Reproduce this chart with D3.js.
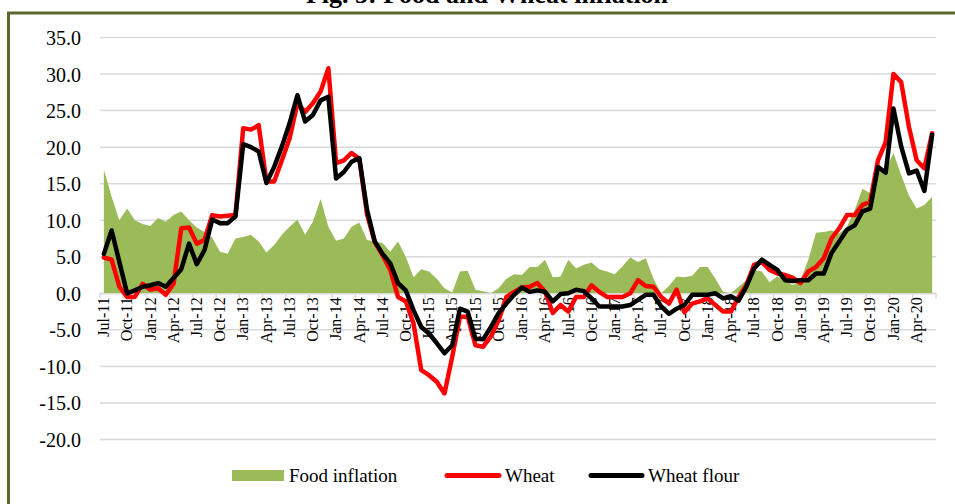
<!DOCTYPE html>
<html lang="en">
<head>
    <meta charset="UTF-8">
    <script src="https://d3js.org/d3.v7.min.js"></script>
    <style>
        body { margin: 0; background: #fff; font-family: "Liberation Serif", "Times New Roman", serif; }
        svg { display: block; }
        .grid line { stroke: #d9d9d9; stroke-width: 1.5; }
        .ytick text { font-size: 20px; fill: #000; }
        .xtick text { font-size: 16px; fill: #000; }
        .legend text { font-size: 19px; fill: #000; }
    </style>
</head>
<body>
    <svg id="chart"></svg>
    <script>
        // monthly, Jul-11 .. Jun-20
        const months = d3.timeMonth.range(new Date(2011, 6, 1), new Date(2020, 6, 1));
        const monthFmt = d3.timeFormat("%b-%y");

        const foodInflation = [
            16.9, 13.2, 10.0, 11.6, 10.0, 9.5, 9.2, 10.3, 9.8, 10.7, 11.2, 10.0,
            9.0, 8.4, 7.6, 5.7, 5.4, 7.5, 7.7, 8.0, 7.1, 5.6, 6.6, 8.0,
            9.1, 10.1, 8.0, 9.8, 12.9, 9.1, 7.2, 7.5, 9.1, 9.7, 7.3, 7.1,
            6.9, 5.7, 7.1, 5.0, 2.2, 3.3, 3.0, 2.0, 0.7, 0.1, 3.0, 3.1,
            0.5, 0.3, 0.0, 0.7, 2.0, 2.6, 2.5, 3.6, 3.6, 4.6, 2.2, 2.3,
            4.6, 3.4, 3.9, 4.2, 3.3, 3.0, 2.6, 3.7, 4.9, 4.3, 4.8, 2.0,
            0.0, 1.0, 2.3, 2.2, 2.4, 3.6, 3.6, 2.0, 0.2, 0.0, 0.9, 1.8,
            3.2, 3.0, 1.5, 2.3, 1.8, 1.1, 1.8, 4.6, 8.3, 8.4, 8.6, 8.2,
            9.1, 11.4, 14.3, 13.7, 16.6, 16.9, 19.2, 16.2, 13.4, 11.6, 12.1, 13.2
        ];

        const wheat = [
            4.9, 4.6, 0.9, -0.5, -0.5, 1.3, 0.5, 0.7, -0.2, 1.3, 8.9, 9.0,
            6.8, 7.3, 10.7, 10.5, 10.6, 10.7, 22.6, 22.4, 23.0, 15.3, 15.3, 18.2,
            21.2, 26.0, 24.8, 26.0, 27.6, 30.8, 17.8, 18.2, 19.2, 18.4, 10.8, 7.0,
            5.2, 3.2, -0.5, -1.1, -4.1, -10.5, -11.2, -12.1, -13.7, -8.7, -3.2, -3.2,
            -7.1, -7.3, -5.9, -3.7, -0.5, 0.2, 0.8, 0.9, 1.4, 0.2, -2.7, -1.6,
            -2.5, -0.5, -0.5, 1.1, 0.2, -0.5, -0.5, -0.5, 0.0, 1.8, 1.0, 0.9,
            -0.5, -1.4, 0.5, -2.6, -1.4, -1.1, -0.7, -1.6, -2.5, -2.5, -0.5, 1.1,
            3.9, 4.3, 3.2, 2.7, 2.5, 2.1, 1.4, 3.0, 3.6, 4.8, 7.5, 8.9,
            10.7, 10.7, 12.1, 12.5, 18.2, 20.7, 30.0, 28.9, 22.8, 18.2, 17.1, 21.9
        ];

        const wheatFlour = [
            5.4, 8.6, 4.3, 0.0, 0.4, 0.9, 1.1, 1.4, 0.9, 2.1, 3.3, 6.8,
            4.0, 5.9, 10.1, 9.6, 9.6, 10.5, 20.4, 20.0, 19.4, 15.1, 17.3, 20.1,
            23.3, 27.1, 23.5, 24.4, 26.4, 26.9, 15.7, 16.6, 18.0, 18.5, 11.4, 7.1,
            5.4, 4.1, 1.4, 0.4, -2.3, -4.6, -5.5, -6.8, -8.2, -7.1, -2.1, -2.5,
            -6.2, -6.3, -4.6, -2.7, -1.4, -0.2, 0.8, 0.2, 0.4, 0.2, -1.1, -0.1,
            0.0, 0.5, 0.3, -0.7, -1.8, -1.8, -1.8, -1.8, -1.6, -0.9, -0.2, -0.2,
            -1.8, -2.8, -2.1, -1.6, -0.2, -0.2, -0.2, 0.0, -0.7, -0.4, -1.0, 0.9,
            3.4, 4.6, 3.9, 3.2, 1.8, 1.7, 1.8, 1.8, 2.7, 2.7, 5.5, 7.1,
            8.7, 9.3, 11.2, 11.6, 17.3, 16.5, 25.3, 20.1, 16.4, 16.8, 14.0, 21.7
        ];

        const yTicks = [-20, -15, -10, -5, 0, 5, 10, 15, 20, 25, 30, 35];

        const W = 955, H = 504;
        const svg = d3.select("#chart").attr("width", W).attr("height", H);

        // title (cut at the top edge like the original)
        svg.append("text")
            .attr("x", 487).attr("y", 3)
            .attr("text-anchor", "middle")
            .style("font-size", "26px").style("font-weight", "bold")
            .text("Fig. 5: Food and Wheat inflation");

        // frame
        svg.append("rect")
            .attr("x", 8.5).attr("y", 13)
            .attr("width", 970).attr("height", 520)
            .attr("fill", "none")
            .attr("stroke", "#5b6a2c").attr("stroke-width", 3);

        const x = d3.scaleBand()
            .domain(months.map(monthFmt))
            .range([100, 936])
            .padding(0);
        const cx = i => x(monthFmt(months[i])) + x.bandwidth() / 2;

        const y = d3.scaleLinear()
            .domain([-20, 35])
            .range([439.5, 37.5]);

        // gridlines
        svg.append("g").attr("class", "grid")
            .selectAll("line").data(yTicks).join("line")
            .attr("x1", 100).attr("x2", 936)
            .attr("y1", d => y(d)).attr("y2", d => y(d));

        // y axis labels
        const yAxis = svg.append("g").attr("class", "ytick")
            .attr("transform", "translate(84,0)")
            .call(d3.axisLeft(y).tickValues(yTicks).tickSize(0).tickFormat(d => d.toFixed(1)));
        yAxis.select(".domain").remove();
        yAxis.selectAll("text")
            .attr("x", -3)
            .attr("dy", "0.35em")
            .style("font-family", "'Liberation Serif', serif")
            .style("font-size", "20px");

        // food inflation area
        const area = d3.area()
            .x((d, i) => cx(i))
            .y0(y(0))
            .y1(d => y(d));
        svg.append("path")
            .datum(foodInflation)
            .attr("fill", "#9bbb59")
            .attr("d", area);

        // x axis: category boundary ticks every 3 months + rotated labels
        const labelMonths = months.filter((d, i) => i % 3 === 0).map(monthFmt);
        const xAxis = svg.append("g").attr("class", "xtick")
            .attr("transform", `translate(0,${y(0)})`)
            .call(d3.axisBottom(x).tickValues(labelMonths).tickSize(0));
        xAxis.select(".domain").attr("stroke", "#d9d9d9").attr("stroke-width", 1.5);
        xAxis.selectAll("text")
            .attr("transform", "rotate(-90)")
            .attr("x", -4)
            .attr("y", 0)
            .attr("dy", "0.33em")
            .attr("text-anchor", "end")
            .style("font-family", "'Liberation Serif', serif")
            .style("font-size", "16px");
        svg.append("g")
            .selectAll("line").data(labelMonths.concat([null])).join("line")
            .attr("x1", d => d === null ? 936 : x(d))
            .attr("x2", d => d === null ? 936 : x(d))
            .attr("y1", y(0)).attr("y2", y(0) + 5)
            .attr("stroke", "#d9d9d9").attr("stroke-width", 1.5);

        const line = d3.line()
            .x((d, i) => cx(i))
            .y(d => y(d));

        svg.append("path")
            .datum(wheat)
            .attr("fill", "none")
            .attr("stroke", "#ff0000")
            .attr("stroke-width", 4.5)
            .attr("stroke-linejoin", "round")
            .attr("stroke-linecap", "round")
            .attr("d", line);

        svg.append("path")
            .datum(wheatFlour)
            .attr("fill", "none")
            .attr("stroke", "#000")
            .attr("stroke-width", 4.5)
            .attr("stroke-linejoin", "round")
            .attr("stroke-linecap", "round")
            .attr("d", line);

        // legend
        const legend = svg.append("g").attr("class", "legend");
        legend.append("rect")
            .attr("x", 232).attr("y", 470).attr("width", 52).attr("height", 11)
            .attr("fill", "#9bbb59");
        legend.append("text").attr("x", 289).attr("y", 482).text("Food inflation");
        legend.append("line")
            .attr("x1", 447).attr("x2", 499).attr("y1", 475.5).attr("y2", 475.5)
            .attr("stroke", "#ff0000").attr("stroke-width", 5).attr("stroke-linecap", "round");
        legend.append("text").attr("x", 505).attr("y", 482).text("Wheat");
        legend.append("line")
            .attr("x1", 591).attr("x2", 642).attr("y1", 475.5).attr("y2", 475.5)
            .attr("stroke", "#000").attr("stroke-width", 5).attr("stroke-linecap", "round");
        legend.append("text").attr("x", 648).attr("y", 482).text("Wheat flour");
    </script>
</body>
</html>
